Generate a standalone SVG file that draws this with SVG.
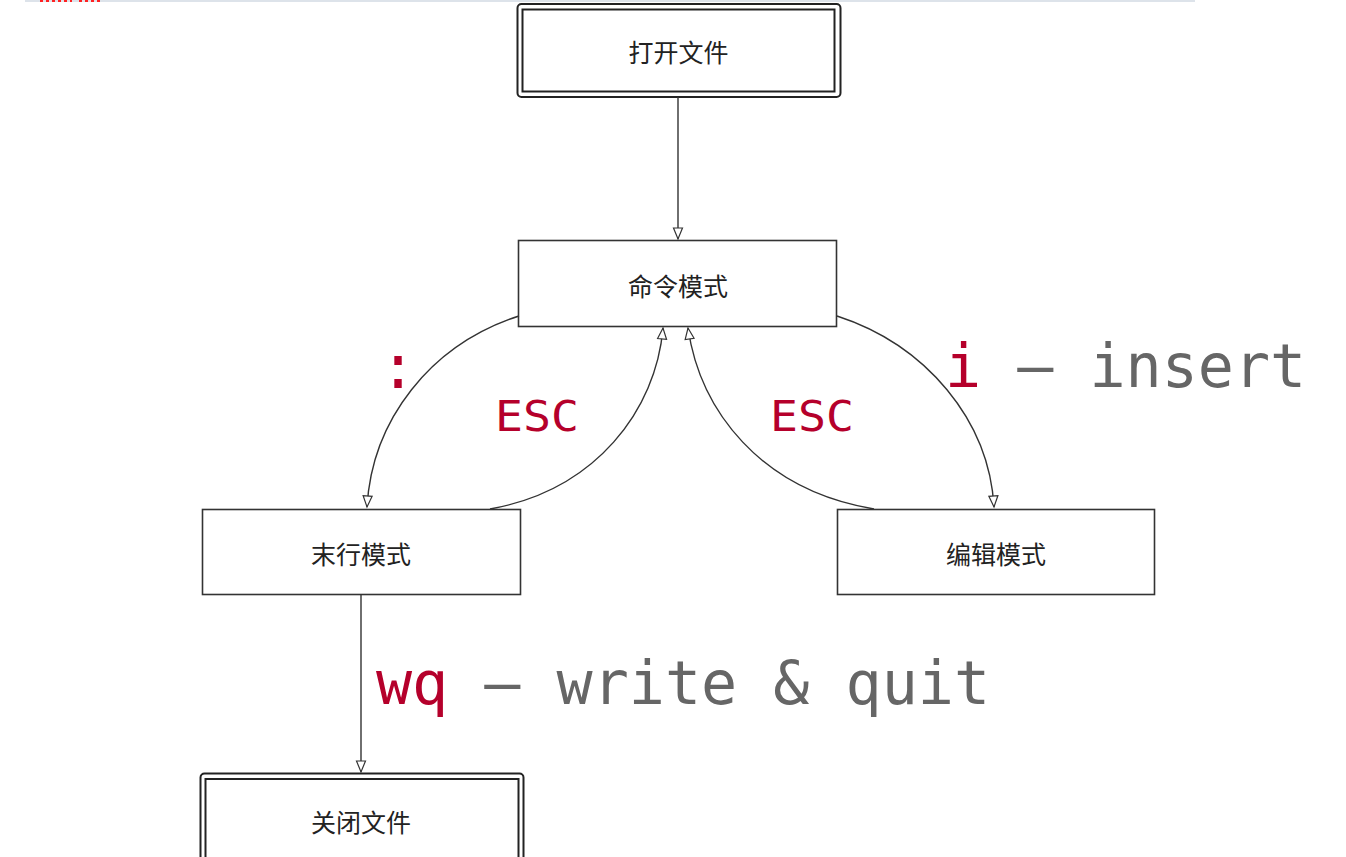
<svg xmlns="http://www.w3.org/2000/svg" width="1346" height="857" viewBox="0 0 1346 857">
<style>
.box{fill:#fff;stroke:#333;stroke-width:1.6}
.dbl{fill:none;stroke:#222;stroke-width:2}
.lbl{font-family:"Noto Sans CJK SC","Noto Sans",sans-serif;font-size:25px;fill:#222;text-anchor:middle;dominant-baseline:central}
.edge{fill:none;stroke:#333;stroke-width:1.4;marker-end:url(#arr)}
.mono{font-family:"DejaVu Sans Mono",monospace}
.red{fill:#b5002b}
.grey{fill:#666}
</style>
<defs>
<marker id="arr" markerUnits="userSpaceOnUse" markerWidth="14" markerHeight="12" refX="12" refY="5" orient="auto" overflow="visible">
<path d="M1,0.5 L12,5 L1,9.5 Z" fill="#fff" stroke="#333" stroke-width="1.2"/>
</marker>
</defs>
<rect width="1346" height="857" fill="#fff"/>
<rect x="25" y="0" width="1170" height="2" fill="#dde3ea"/>
<path d="M40,1 H72 M79,1 H100" stroke="#f22" stroke-width="2" stroke-dasharray="3,3"/>
<g id="open">
<rect class="dbl" x="517.5" y="4" width="323" height="93" rx="4"/>
<rect class="dbl" x="522.5" y="9.5" width="312" height="82"/>
<text class="lbl" x="678.5" y="51">打开文件</text>
</g>
<g id="cmd">
<rect class="box" x="518.5" y="240.5" width="318" height="86"/>
<text class="lbl" x="678" y="285">命令模式</text>
</g>
<g id="last">
<rect class="box" x="202.5" y="509.5" width="318" height="85"/>
<text class="lbl" x="361" y="553">末行模式</text>
</g>
<g id="edit">
<rect class="box" x="837.5" y="509.5" width="317" height="85"/>
<text class="lbl" x="996" y="553">编辑模式</text>
</g>
<g id="close">
<rect class="dbl" x="200.5" y="773.5" width="323" height="100" rx="4"/>
<rect class="dbl" x="205.5" y="779" width="313" height="100"/>
<text class="lbl" x="361" y="821">关闭文件</text>
</g>
<g id="connectors">
<path class="edge" d="M678,97 L678,239"/>
<path class="edge" d="M519,316 C430,345 372,420 367,507"/>
<path class="edge" d="M490,509 C596,490 656,410 663,328"/>
<path class="edge" d="M874,509 C760,490 700,410 688,328"/>
<path class="edge" d="M837,316 C926,345 989,420 994,507"/>
<path class="edge" d="M361,594 L361,772"/>
</g>
<g id="labels">
<text class="mono red" x="398" y="388" font-size="60" text-anchor="middle">:</text>
<text class="mono red" x="495" y="431" font-size="42" textLength="84" lengthAdjust="spacingAndGlyphs">ESC</text>
<text class="mono red" x="770" y="431" font-size="42" textLength="84" lengthAdjust="spacingAndGlyphs">ESC</text>
<text class="mono" x="945" y="387" font-size="60"><tspan class="red">i</tspan><tspan class="grey"> – insert</tspan></text>
<text class="mono" x="376" y="704" font-size="60"><tspan class="red">wq</tspan><tspan class="grey"> – write &amp; quit</tspan></text>
</g>
</svg>
